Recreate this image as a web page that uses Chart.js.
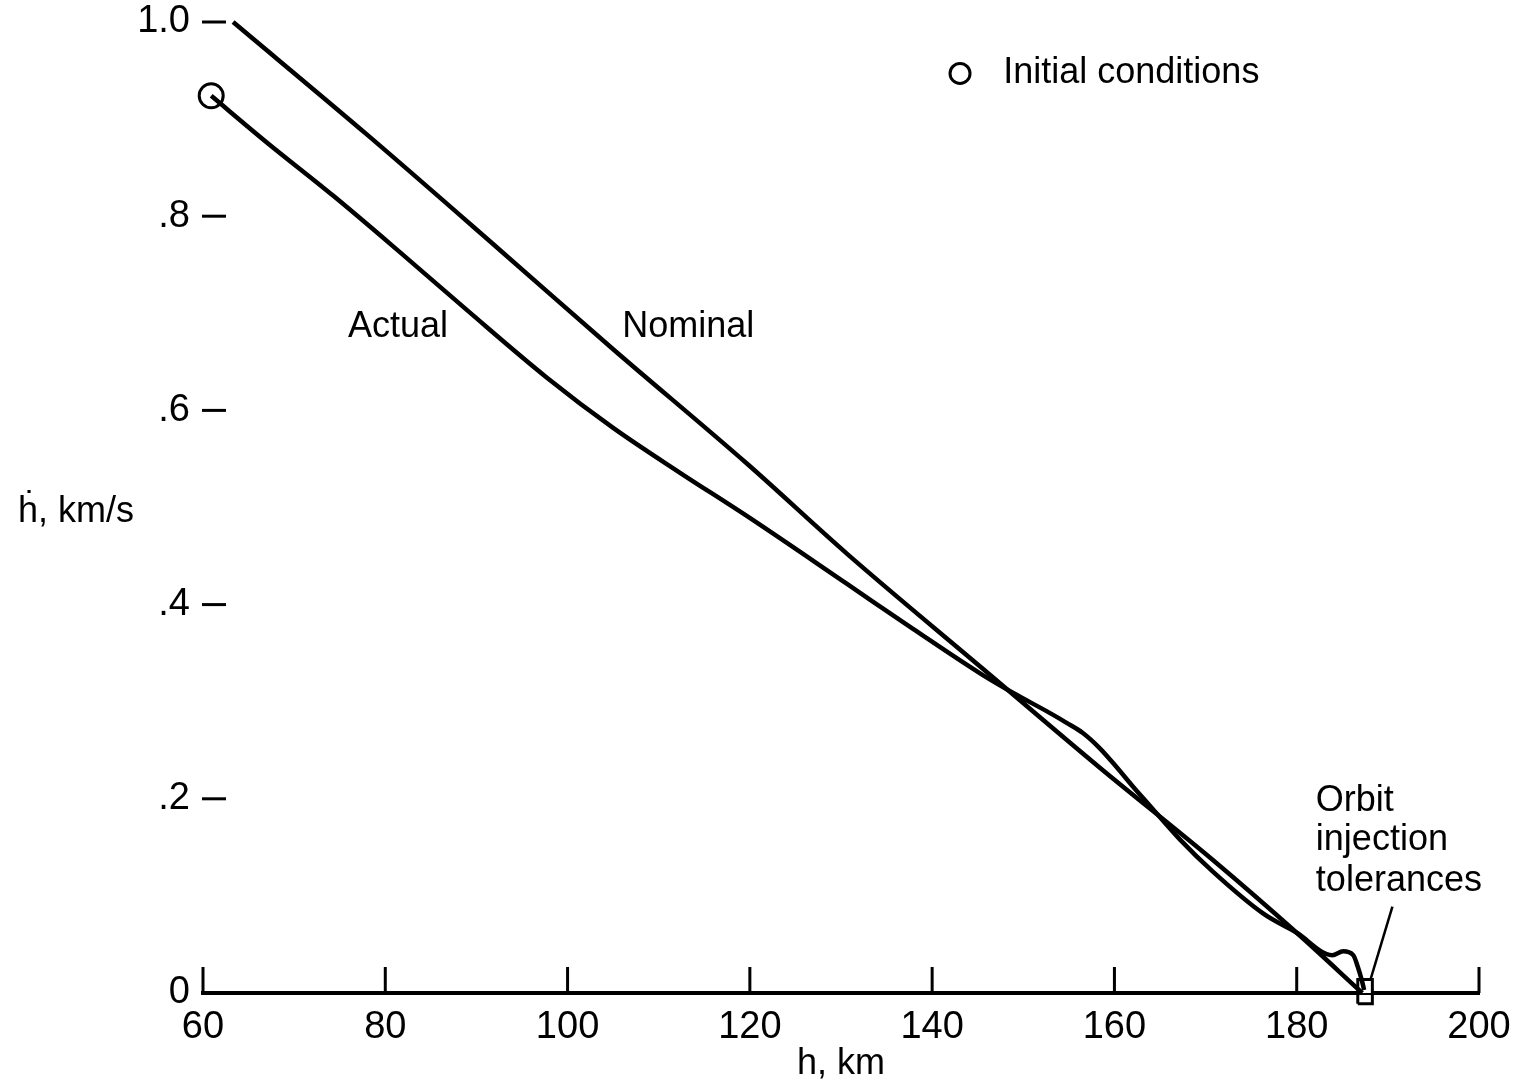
<!DOCTYPE html>
<html>
<head>
<meta charset="utf-8">
<script src="https://cdn.jsdelivr.net/npm/chart.js@4"></script>
<style>
  html, body { margin: 0; padding: 0; background: #fff; }
  #wrap { width: 1526px; height: 1086px; }
</style>
</head>
<body>
<div id="wrap"><canvas id="hdot-vs-h"></canvas></div>
<script>
// altitude h (km) vs altitude rate hdot (km/s)
const nominal_h    = [63.3, 78.0, 92.6, 105.0, 119.7, 130.7, 145.3, 158.4, 170.8, 180.0, 187.2]
const nominal_hdot = [1.0, 0.884, 0.765, 0.663, 0.545, 0.452, 0.336, 0.232, 0.137, 0.062, 0.0]

const actual_h    = [60.9, 67.0, 74.3, 81.6, 89.0, 97.7, 105.0, 112.3, 119.7, 130.7, 137.9, 145.3, 148.9, 152.6, 154.8, 156.5, 158.4, 160.3, 162.0, 163.6, 167.2, 170.8, 176.3, 180.0, 183.9, 185.1, 186.2, 186.7, 187.2, 187.4]
const actual_hdot = [0.924, 0.876, 0.821, 0.763, 0.703, 0.634, 0.582, 0.536, 0.491, 0.421, 0.375, 0.329, 0.309, 0.290, 0.278, 0.268, 0.252, 0.232, 0.213, 0.196, 0.158, 0.125, 0.082, 0.062, 0.039, 0.043, 0.039, 0.027, 0.011, 0.003]

const initial_h = [60.9]
const initial_hdot = [0.924]

// orbit injection tolerance box and its leader
const tol_box_h    = [186.7, 188.3, 188.3, 186.7, 186.7]
const tol_box_hdot = [-0.011, -0.011, 0.014, 0.014, -0.011]
const leader_h     = [188.1, 190.5]
const leader_hdot  = [0.014, 0.089]

const x_ticks = [60, 80, 100, 120, 140, 160, 180, 200]
const y_ticks = [0, 0.2, 0.4, 0.6, 0.8, 1.0]

const x_title = "h, km"
const y_title = "ḣ, km/s"
const legend_text = "Initial conditions"
const orbit_lines = ["Orbit", "injection", "tolerances"]

const FONT = "'Liberation Sans', 'DejaVu Sans', sans-serif"
const INK = "#000"

function pts(xs, ys) {
  return xs.map((x, i) => ({ x: x, y: ys[i] }))
}

// text labels placed in data units
const notes = [
  { text: "Actual", h: 75.9, v: 0.686 },
  { text: "Nominal", h: 106.0, v: 0.686 },
  { text: orbit_lines[0], h: 182.1, v: 0.198 },
  { text: orbit_lines[1], h: 182.1, v: 0.157 },
  { text: orbit_lines[2], h: 182.1, v: 0.115 },
  { text: legend_text, h: 147.8, v: 0.947 }
]
const legend_mark = { h: 143.06, v: 0.947 }

const decor = {
  id: 'decor',
  afterDraw(chart) {
    const ctx = chart.ctx
    const xs = chart.scales.x
    const ys = chart.scales.y
    const area = chart.chartArea
    ctx.save()
    ctx.strokeStyle = INK
    ctx.fillStyle = INK

    // x tick marks pointing up from the axis
    ctx.lineWidth = 3
    x_ticks.forEach(function(t) {
      const px = xs.getPixelForValue(t)
      ctx.beginPath()
      ctx.moveTo(px, area.bottom)
      ctx.lineTo(px, area.bottom - 26)
      ctx.stroke()
    })

    // y tick dashes
    y_ticks.forEach(function(t) {
      if (t === 0) return
      const py = ys.getPixelForValue(t)
      ctx.beginPath()
      ctx.moveTo(area.left - 1, py)
      ctx.lineTo(area.left + 23, py)
      ctx.stroke()
    })

    ctx.font = "36px " + FONT
    ctx.textBaseline = 'middle'
    ctx.textAlign = 'left'
    notes.forEach(function(n) {
      ctx.fillText(n.text, xs.getPixelForValue(n.h), ys.getPixelForValue(n.v))
    })

    // legend circle
    ctx.lineWidth = 3
    ctx.beginPath()
    ctx.arc(xs.getPixelForValue(legend_mark.h), ys.getPixelForValue(legend_mark.v), 10, 0, Math.PI * 2)
    ctx.stroke()

    // y title, horizontal at the left
    ctx.fillText(y_title, 18, ys.getPixelForValue(0.495))
    ctx.restore()
  }
}

const ctx = document.getElementById('hdot-vs-h').getContext('2d')

new Chart(ctx, {
  type: 'scatter',
  data: {
    datasets: [
      {
        label: 'Nominal',
        data: pts(nominal_h, nominal_hdot),
        showLine: true,
        borderColor: INK,
        borderWidth: 4.5,
        cubicInterpolationMode: 'monotone',
        pointRadius: 0,
        clip: false
      },
      {
        label: 'Actual',
        data: pts(actual_h, actual_hdot),
        showLine: true,
        borderColor: INK,
        borderWidth: 4.5,
        cubicInterpolationMode: 'monotone',
        pointRadius: 0,
        clip: false
      },
      {
        label: 'Leader',
        data: pts(leader_h, leader_hdot),
        showLine: true,
        borderColor: INK,
        borderWidth: 2.5,
        pointRadius: 0,
        clip: false
      },
      {
        label: 'Tolerances',
        data: pts(tol_box_h, tol_box_hdot),
        showLine: true,
        borderColor: INK,
        backgroundColor: '#fff',
        fill: 'shape',
        borderWidth: 3,
        pointRadius: 0,
        clip: false
      },
      {
        label: 'Initial conditions',
        data: pts(initial_h, initial_hdot),
        showLine: false,
        pointRadius: 12,
        pointBorderWidth: 3,
        pointBorderColor: INK,
        pointBackgroundColor: '#fff',
        clip: false
      },
      {
        label: 'Initial dot',
        data: pts(initial_h, initial_hdot),
        showLine: false,
        pointRadius: 2,
        pointBorderWidth: 0,
        pointBackgroundColor: INK,
        clip: false
      }
    ]
  },
  options: {
    responsive: true,
    maintainAspectRatio: false,
    animation: false,
    layout: { padding: { top: 22, right: 47, left: 0, bottom: 0 } },
    scales: {
      x: {
        type: 'linear',
        min: 60,
        max: 200,
        afterBuildTicks(scale) {
          scale.ticks = x_ticks.map(v => ({ value: v }))
        },
        afterFit(scale) {
          scale.height = 93
          scale.paddingLeft = 0
          scale.paddingRight = 0
        },
        ticks: {
          color: INK,
          padding: 12,
          font: { family: FONT, size: 38 },
          maxRotation: 0
        },
        grid: { display: true, drawOnChartArea: false, drawTicks: false },
        border: { display: true, color: INK, width: 4 },
        title: {
          display: true,
          text: x_title,
          color: INK,
          font: { family: FONT, size: 36 },
          padding: { top: 0, bottom: 0 }
        }
      },
      y: {
        type: 'linear',
        min: 0,
        max: 1.0,
        afterBuildTicks(scale) {
          scale.ticks = y_ticks.map(v => ({ value: v }))
        },
        afterFit(scale) {
          scale.width = 203
          scale.paddingTop = 0
          scale.paddingBottom = 0
        },
        ticks: {
          color: INK,
          padding: 13,
          font: { family: FONT, size: 38 },
          callback: function(v) {
            if (v === 0) return '0'
            if (v === 1) return '1.0'
            return '.' + Math.round(v * 10)
          }
        },
        grid: { display: true, drawOnChartArea: false, drawTicks: false },
        border: { display: false }
      }
    },
    plugins: {
      legend: { display: false },
      tooltip: { enabled: false }
    }
  },
  plugins: [decor]
})
</script>
</body>
</html>
